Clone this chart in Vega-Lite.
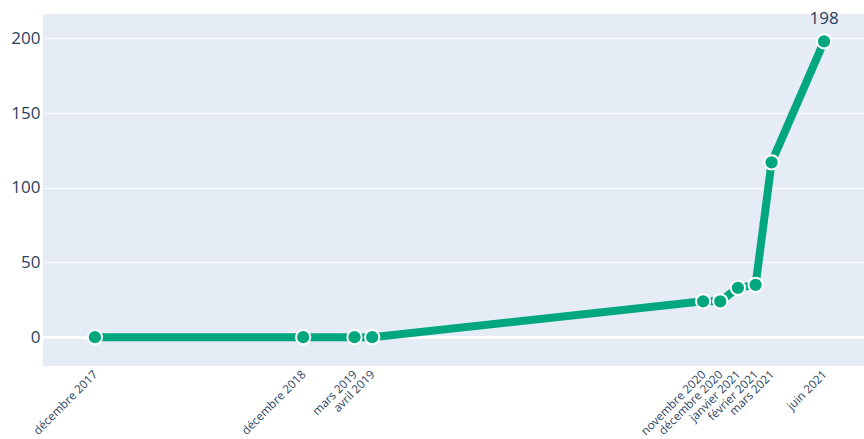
{
  "$schema": "https://vega.github.io/schema/vega-lite/v6.json",
  "width": 821,
  "height": 352,
  "autosize": {"type": "none"},
  "padding": {"left": 43, "top": 14, "right": 0, "bottom": 73},
  "background": "white",
  "config": {
    "view": {"fill": "#E5ECF6", "stroke": null},
    "font": "Open Sans"
  },
  "data": {
    "values": [
      {"date": "2017-12-01", "count": 0},
      {"date": "2018-12-01", "count": 0},
      {"date": "2019-03-01", "count": 0},
      {"date": "2019-04-01", "count": 0},
      {"date": "2020-11-01", "count": 24},
      {"date": "2020-12-01", "count": 24},
      {"date": "2021-01-01", "count": 33},
      {"date": "2021-02-01", "count": 35},
      {"date": "2021-03-01", "count": 117},
      {"date": "2021-06-01", "count": 198}
    ]
  },
  "layer": [
    {
      "mark": {"type": "rule", "color": "white", "strokeWidth": 2},
      "encoding": {"y": {"datum": 0, "type": "quantitative", "scale": {"domain": [-19.3, 216.3], "nice": false, "zero": false}}}
    },
    {
      "mark": {"type": "line", "color": "#03a77f", "strokeWidth": 8, "strokeJoin": "round"},
      "encoding": {
        "x": {
          "field": "date",
          "type": "temporal",
          "scale": {
            "type": "utc",
            "domain": [
              {"year": 2017, "month": 9, "date": 1, "utc": true},
              {"year": 2021, "month": 8, "date": 10, "utc": true}
            ],
            "nice": false
          },
          "axis": {
            "title": null,
            "grid": false,
            "domain": false,
            "ticks": false,
            "values": [
              {"year": 2017, "month": 12, "date": 1, "utc": true},
              {"year": 2018, "month": 12, "date": 1, "utc": true},
              {"year": 2019, "month": 3, "date": 1, "utc": true},
              {"year": 2019, "month": 4, "date": 1, "utc": true},
              {"year": 2020, "month": 11, "date": 1, "utc": true},
              {"year": 2020, "month": 12, "date": 1, "utc": true},
              {"year": 2021, "month": 1, "date": 1, "utc": true},
              {"year": 2021, "month": 2, "date": 1, "utc": true},
              {"year": 2021, "month": 3, "date": 1, "utc": true},
              {"year": 2021, "month": 6, "date": 1, "utc": true}
            ],
            "labelExpr": "['janvier','février','mars','avril','mai','juin','juillet','août','septembre','octobre','novembre','décembre'][utcmonth(datum.value)] + ' ' + utcyear(datum.value)",
            "labelAngle": -45,
            "labelAlign": "right",
            "labelBaseline": "middle",
            "labelPadding": 6,
            "labelFontSize": 11.7,
            "labelColor": "#2a3f5f",
            "labelOverlap": false,
            "labelFlush": false,
            "labelBound": false
          }
        },
        "y": {
          "field": "count",
          "type": "quantitative",
          "scale": {"domain": [-19.3, 216.3], "nice": false, "zero": false},
          "axis": {
            "title": null,
            "values": [0, 50, 100, 150, 200],
            "grid": true,
            "gridColor": "white",
            "gridWidth": 1,
            "domain": false,
            "ticks": false,
            "labelPadding": 3,
            "labelFontSize": 17,
            "labelColor": "#2a3f5f"
          }
        }
      }
    },
    {
      "mark": {"type": "point", "shape": "circle", "filled": true, "size": 205, "color": "#03a77f", "stroke": "white", "strokeWidth": 2, "opacity": 1},
      "encoding": {
        "x": {"field": "date", "type": "temporal"},
        "y": {"field": "count", "type": "quantitative"}
      }
    },
    {
      "transform": [{"filter": {"field": "count", "equal": 198}}],
      "mark": {"type": "text", "dy": -17, "baseline": "alphabetic", "align": "center", "fontSize": 17, "color": "#2a3f5f"},
      "encoding": {
        "x": {"field": "date", "type": "temporal"},
        "y": {"field": "count", "type": "quantitative"},
        "text": {"field": "count", "type": "quantitative"}
      }
    }
  ]
}
